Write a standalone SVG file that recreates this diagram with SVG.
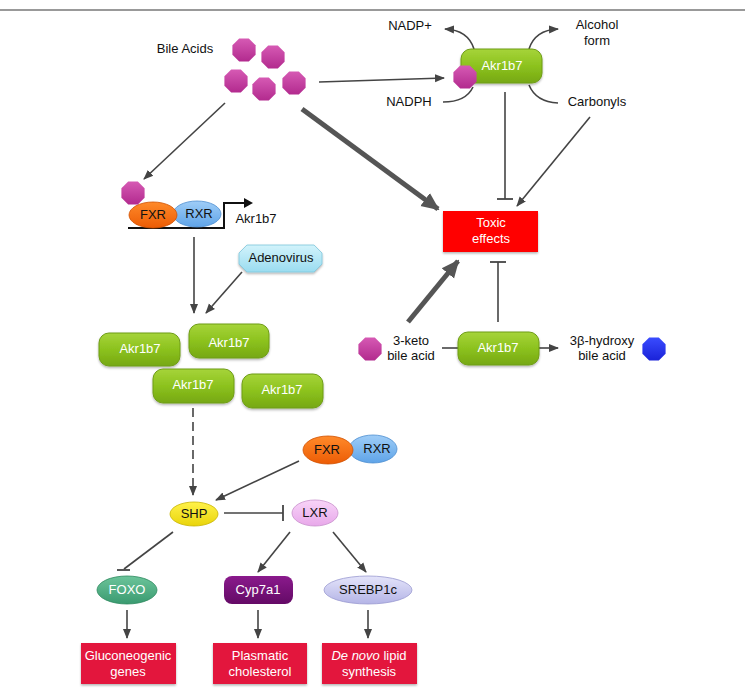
<svg xmlns="http://www.w3.org/2000/svg" width="745" height="696" viewBox="0 0 745 696">
<defs>
<linearGradient id="gGreen" x1="0" y1="0" x2="0" y2="1"><stop offset="0" stop-color="#a6d43a"/><stop offset="0.5" stop-color="#8cc21e"/><stop offset="1" stop-color="#76a812"/></linearGradient>
<linearGradient id="gMag" x1="0" y1="0" x2="0" y2="1"><stop offset="0" stop-color="#d65ab4"/><stop offset="1" stop-color="#b22a8e"/></linearGradient>
<linearGradient id="gBlue" x1="0" y1="0" x2="0" y2="1"><stop offset="0" stop-color="#3a4cff"/><stop offset="1" stop-color="#1a22d8"/></linearGradient>
<linearGradient id="gOrange" x1="0" y1="0" x2="0" y2="1"><stop offset="0" stop-color="#ff8a2a"/><stop offset="1" stop-color="#ec5c05"/></linearGradient>
<linearGradient id="gRxr" x1="0" y1="0" x2="0" y2="1"><stop offset="0" stop-color="#9fcdf7"/><stop offset="1" stop-color="#5fa4e8"/></linearGradient>
<linearGradient id="gAdeno" x1="0" y1="0" x2="0" y2="1"><stop offset="0" stop-color="#d2f3fb"/><stop offset="1" stop-color="#9adcf0"/></linearGradient>
<linearGradient id="gShp" x1="0" y1="0" x2="0" y2="1"><stop offset="0" stop-color="#fff24a"/><stop offset="1" stop-color="#e9d40a"/></linearGradient>
<linearGradient id="gLxr" x1="0" y1="0" x2="0" y2="1"><stop offset="0" stop-color="#f8d4f8"/><stop offset="1" stop-color="#e8a8ea"/></linearGradient>
<linearGradient id="gFoxo" x1="0" y1="0" x2="0" y2="1"><stop offset="0" stop-color="#6cc49a"/><stop offset="1" stop-color="#3a9a70"/></linearGradient>
<linearGradient id="gCyp" x1="0" y1="0" x2="0" y2="1"><stop offset="0" stop-color="#8a1a8c"/><stop offset="1" stop-color="#640a66"/></linearGradient>
<linearGradient id="gSreb" x1="0" y1="0" x2="0" y2="1"><stop offset="0" stop-color="#e4e4fa"/><stop offset="1" stop-color="#b4b4e6"/></linearGradient>
<filter id="sh" x="-20%" y="-20%" width="140%" height="150%"><feDropShadow dx="0" dy="1.5" stdDeviation="1.2" flood-color="#000" flood-opacity="0.3"/></filter>
<polygon id="oct" points="-4.8,-11.6 4.8,-11.6 11.6,-4.8 11.6,4.8 4.8,11.6 -4.8,11.6 -11.6,4.8 -11.6,-4.8"/>
<marker id="ah" markerUnits="userSpaceOnUse" markerWidth="10" markerHeight="10" refX="9" refY="5" orient="auto"><path d="M0,1 L10,5 L0,9 Z" fill="#444"/></marker>
<marker id="ahBig" markerUnits="userSpaceOnUse" markerWidth="18" markerHeight="18" refX="16" refY="9" orient="auto"><path d="M0,1 L18,9 L0,17 Z" fill="#555"/></marker>
<marker id="tb" markerUnits="userSpaceOnUse" markerWidth="4" markerHeight="16" refX="2" refY="8" orient="auto"><path d="M2,0 L2,16" stroke="#444" stroke-width="1.8"/></marker>
</defs>
<style>
text{font-family:"Liberation Sans",Arial,Helvetica,sans-serif;font-size:13px;text-anchor:middle;dominant-baseline:middle;fill:#111}
.w{fill:#fff}
.akr{fill:url(#gGreen);stroke:#6f9d15;stroke-width:1}
.red{fill:#e3173e;filter:url(#sh)}
.ln{stroke:#444;stroke-width:1.6;fill:none}
.thick{stroke:#555;stroke-width:5;fill:none}
.mag{fill:url(#gMag)}
</style>
<rect width="745" height="696" fill="#fff"/>
<line x1="0" y1="10" x2="745" y2="10" stroke="#999" stroke-width="2"/>

<g id="connectors">
<line class="ln" x1="319" y1="82" x2="444" y2="78" marker-end="url(#ah)"/>
<line class="thick" x1="302" y1="109" x2="438" y2="209" marker-end="url(#ahBig)"/>
<line class="ln" x1="225" y1="103" x2="144" y2="179" marker-end="url(#ah)"/>
<path class="ln" d="M474,49 Q468,30 445,29" marker-end="url(#ah)"/>
<path class="ln" d="M529,49 Q535,30 558,29" marker-end="url(#ah)"/>
<path class="ln" d="M443,102 Q466,102 473,87"/>
<path class="ln" d="M529,85 Q536,102 558,103"/>
<line class="ln" x1="505" y1="92" x2="505" y2="199" marker-end="url(#tb)"/>
<line class="ln" x1="590" y1="117" x2="517" y2="206" marker-end="url(#ah)"/>
<line class="thick" x1="408" y1="322" x2="458" y2="261" marker-end="url(#ahBig)"/>
<line class="ln" x1="498" y1="322" x2="498" y2="262" marker-end="url(#tb)"/>
<line class="ln" x1="442" y1="348" x2="458" y2="348"/>
<line class="ln" x1="539" y1="348" x2="558" y2="348" marker-end="url(#ah)"/>
<line class="ln" x1="194" y1="237" x2="194" y2="313" marker-end="url(#ah)"/>
<line class="ln" x1="242" y1="272" x2="206" y2="313" marker-end="url(#ah)"/>
<line class="ln" x1="193" y1="408" x2="193" y2="495" stroke-dasharray="9,5" marker-end="url(#ah)"/>
<line class="ln" x1="299" y1="461" x2="216" y2="500" marker-end="url(#ah)"/>
<line class="ln" x1="224" y1="513" x2="283" y2="513" marker-end="url(#tb)"/>
<line class="ln" x1="173" y1="532" x2="124" y2="569"/>
<line x1="117" y1="570" x2="130" y2="570" stroke="#444" stroke-width="1.8"/>
<line class="ln" x1="290" y1="532" x2="258" y2="572" marker-end="url(#ah)"/>
<line class="ln" x1="333" y1="532" x2="366" y2="572" marker-end="url(#ah)"/>
<line class="ln" x1="127" y1="610" x2="127" y2="638" marker-end="url(#ah)"/>
<line class="ln" x1="258" y1="610" x2="258" y2="638" marker-end="url(#ah)"/>
<line class="ln" x1="368" y1="610" x2="368" y2="638" marker-end="url(#ah)"/>
</g>

<g id="bile-acids">
<text x="185" y="50" font-size="12">Bile Acids</text>
<use href="#oct" class="mag" x="244" y="50"/>
<use href="#oct" class="mag" x="273" y="57"/>
<use href="#oct" class="mag" x="236" y="81"/>
<use href="#oct" class="mag" x="264" y="89"/>
<use href="#oct" class="mag" x="294" y="83"/>
</g>

<g id="akr1b7-top">
<rect class="akr" x="461" y="49" width="81" height="34" rx="10" filter="url(#sh)"/>
<text class="w" x="502" y="67">Akr1b7</text>
<use href="#oct" class="mag" x="465" y="77"/>
</g>
<g id="cofactors">
<text x="410" y="27">NADP+</text>
<text x="597" y="26">Alcohol</text>
<text x="597" y="42">form</text>
<text x="409" y="103">NADPH</text>
<text x="597" y="103">Carbonyls</text>
</g>

<g id="toxic">
<rect x="443" y="211" width="95" height="41" fill="#ff0000" filter="url(#sh)"/>
<text class="w" x="491" y="224">Toxic</text>
<text class="w" x="491" y="240">effects</text>
</g>

<g id="keto-reaction">
<use href="#oct" class="mag" x="370" y="349"/>
<text x="411" y="342">3-keto</text>
<text x="411" y="357">bile acid</text>
<rect class="akr" x="458" y="332" width="81" height="33" rx="10" filter="url(#sh)"/>
<text class="w" x="498" y="349">Akr1b7</text>
<text x="602" y="342">3β-hydroxy</text>
<text x="602" y="357">bile acid</text>
<use href="#oct" fill="url(#gBlue)" x="654" y="349"/>
</g>

<g id="fxr-rxr-promoter">
<polyline points="128,228 224,228 224,203 246,203" fill="none" stroke="#111" stroke-width="2"/>
<path d="M244,198 L253,203 L244,208 Z" fill="#111"/>
<ellipse cx="197" cy="214" rx="24" ry="13" fill="url(#gRxr)" stroke="#4f8fd0" stroke-width="0.8"/>
<ellipse cx="153" cy="215" rx="24" ry="13" fill="url(#gOrange)" stroke="#d05000" stroke-width="0.8"/>
<text x="153" y="216">FXR</text>
<text x="199" y="215">RXR</text>
<use href="#oct" class="mag" x="133" y="193"/>
<text x="256" y="220">Akr1b7</text>
</g>

<g id="adenovirus">
<polygon points="247,245 314,245 322,253 322,264 314,272 247,272 239,264 239,253" fill="url(#gAdeno)" stroke="#7fc6dc" stroke-width="0.8" filter="url(#sh)"/>
<text x="281" y="259">Adenovirus</text>
</g>

<g id="akr1b7-cluster">
<rect class="akr" x="99" y="333" width="81" height="33" rx="10" filter="url(#sh)"/>
<text class="w" x="140" y="350">Akr1b7</text>
<rect class="akr" x="189" y="324" width="80" height="34" rx="10" filter="url(#sh)"/>
<text class="w" x="229" y="344">Akr1b7</text>
<rect class="akr" x="153" y="369" width="81" height="34" rx="10" filter="url(#sh)"/>
<text class="w" x="193" y="386">Akr1b7</text>
<rect class="akr" x="242" y="374" width="81" height="34" rx="10" filter="url(#sh)"/>
<text class="w" x="282" y="391">Akr1b7</text>
</g>

<g id="fxr-rxr">
<ellipse cx="373" cy="449" rx="24" ry="14" fill="url(#gRxr)" stroke="#4f8fd0" stroke-width="0.8"/>
<ellipse cx="328" cy="450" rx="25" ry="14" fill="url(#gOrange)" stroke="#d05000" stroke-width="0.8"/>
<text x="327" y="451">FXR</text>
<text x="377" y="450">RXR</text>
</g>

<g id="shp">
<ellipse cx="194" cy="514" rx="24" ry="12" fill="url(#gShp)" stroke="#c8b400" stroke-width="0.8"/>
<text x="194" y="515">SHP</text>
</g>
<g id="lxr">
<ellipse cx="315" cy="513" rx="23" ry="13" fill="url(#gLxr)" stroke="#c890cc" stroke-width="0.8"/>
<text x="315" y="514">LXR</text>
</g>

<g id="foxo">
<ellipse cx="127" cy="590" rx="30" ry="14" fill="url(#gFoxo)" stroke="#2f8a60" stroke-width="0.8"/>
<text class="w" x="127" y="591">FOXO</text>
</g>
<g id="cyp7a1">
<rect x="224" y="576" width="69" height="28" rx="8" fill="url(#gCyp)"/>
<text class="w" x="258" y="591">Cyp7a1</text>
</g>
<g id="srebp1c">
<ellipse cx="368" cy="590" rx="44" ry="14" fill="url(#gSreb)" stroke="#9a9ad0" stroke-width="0.8"/>
<text x="368" y="591">SREBP1c</text>
</g>

<g id="gluconeogenic">
<rect class="red" x="81" y="643" width="95" height="41"/>
<text class="w" x="128" y="657">Gluconeogenic</text>
<text class="w" x="128" y="673">genes</text>
</g>
<g id="cholesterol">
<rect class="red" x="213" y="643" width="94" height="41"/>
<text class="w" x="260" y="657">Plasmatic</text>
<text class="w" x="260" y="673">cholesterol</text>
</g>
<g id="lipid">
<rect class="red" x="322" y="643" width="95" height="41"/>
<text class="w" x="369" y="657"><tspan font-style="italic">De novo</tspan> lipid</text>
<text class="w" x="369" y="673">synthesis</text>
</g>
</svg>
